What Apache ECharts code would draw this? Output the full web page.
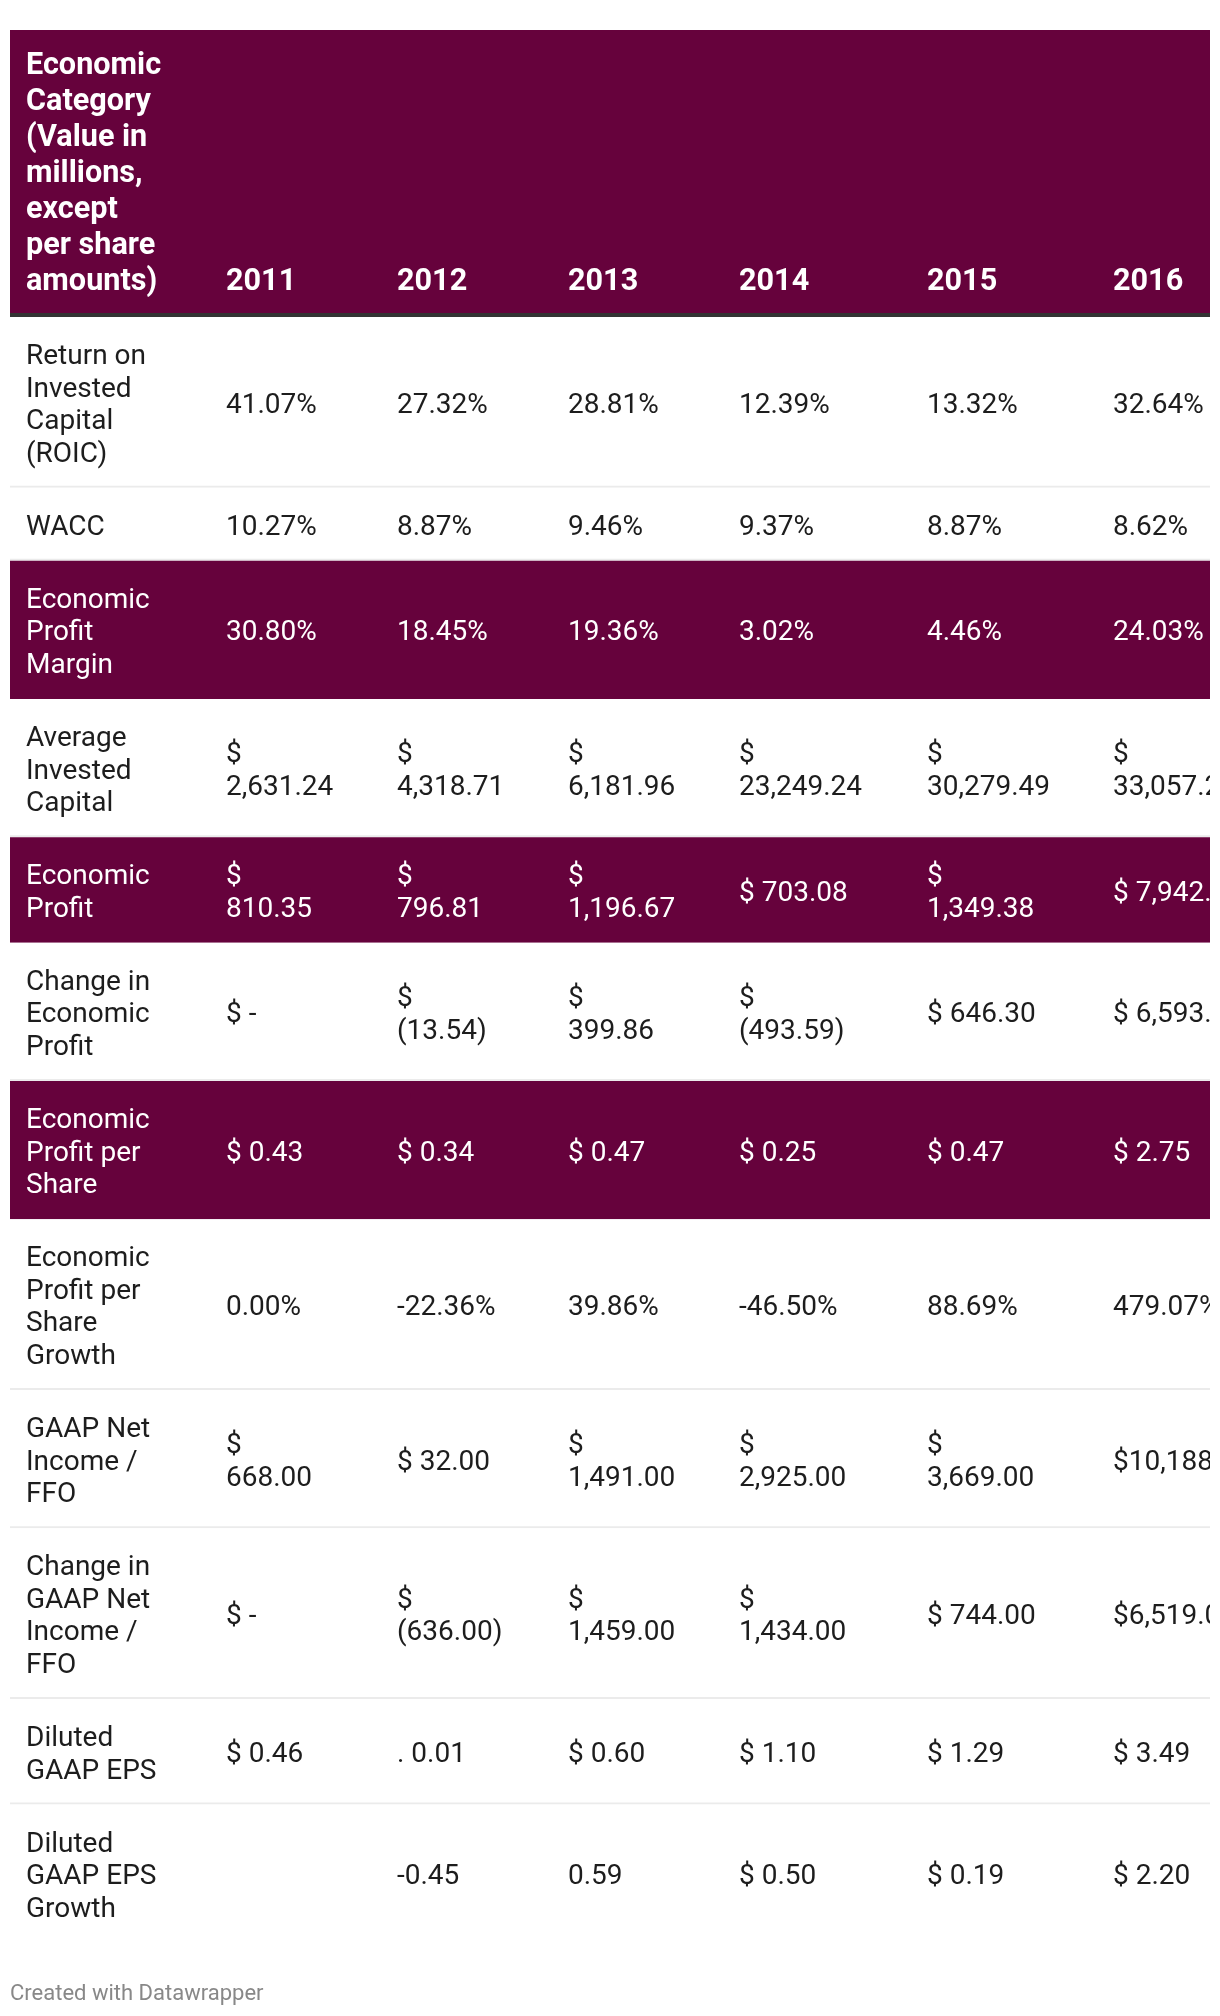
<!DOCTYPE html>
<html>
<head>
<meta charset="utf-8">
<script src="https://cdn.jsdelivr.net/npm/echarts@6/dist/echarts.min.js"></script>
<style>
html,body{margin:0;padding:0;background:#fff;}
#chart{width:1220px;height:2016px;}
</style>
</head>
<body>
<div id="chart"></div>
<script>
// ---------------- DATA ----------------
const headerLabel = 'Economic\nCategory\n(Value in\nmillions,\nexcept\nper share\namounts)';
const years = ['2011', '2012', '2013', '2014', '2015', '2016'];
const categories = [
  'Return on\nInvested\nCapital\n(ROIC)',
  'WACC',
  'Economic\nProfit\nMargin',
  'Average\nInvested\nCapital',
  'Economic\nProfit',
  'Change in\nEconomic\nProfit',
  'Economic\nProfit per\nShare',
  'Economic\nProfit per\nShare\nGrowth',
  'GAAP Net\nIncome /\nFFO',
  'Change in\nGAAP Net\nIncome /\nFFO',
  'Diluted\nGAAP EPS',
  'Diluted\nGAAP EPS\nGrowth'
];
const values2011 = ['41.07%', '10.27%', '30.80%', '$\n2,631.24', '$\n810.35', '$ -', '$ 0.43', '0.00%', '$\n668.00', '$ -', '$ 0.46', ''];
const values2012 = ['27.32%', '8.87%', '18.45%', '$\n4,318.71', '$\n796.81', '$\n(13.54)', '$ 0.34', '-22.36%', '$ 32.00', '$\n(636.00)', '. 0.01', '-0.45'];
const values2013 = ['28.81%', '9.46%', '19.36%', '$\n6,181.96', '$\n1,196.67', '$\n399.86', '$ 0.47', '39.86%', '$\n1,491.00', '$\n1,459.00', '$ 0.60', '0.59'];
const values2014 = ['12.39%', '9.37%', '3.02%', '$\n23,249.24', '$ 703.08', '$\n(493.59)', '$ 0.25', '-46.50%', '$\n2,925.00', '$\n1,434.00', '$ 1.10', '$ 0.50'];
const values2015 = ['13.32%', '8.87%', '4.46%', '$\n30,279.49', '$\n1,349.38', '$ 646.30', '$ 0.47', '88.69%', '$\n3,669.00', '$ 744.00', '$ 1.29', '$ 0.19'];
const values2016 = ['32.64%', '8.62%', '24.03%', '$\n33,057.24', '$ 7,942.40', '$ 6,593.02', '$ 2.75', '479.07%', '$10,188.00', '$6,519.00', '$ 3.49', '$ 2.20'];
const highlightedRows = ['Economic\nProfit\nMargin', 'Economic\nProfit', 'Economic\nProfit per\nShare'];
const footerText = 'Created with Datawrapper';

// ---------------- LAYOUT / STYLE ----------------
const valueColumns = [values2011, values2012, values2013, values2014, values2015, values2016];
const MAROON = '#66023c';
const TABLE_LEFT = 10, TABLE_TOP = 30, TABLE_W = 1200;
const COL_LEFTS = [0, 200, 371, 542, 713, 901, 1087];
const PAD_X = 16;
const BODY_FONT = 28, BODY_LH = 32.6, BODY_PAD = 40.4, BODY_DY = 3.5;
const HEAD_FONT = 30.6, HEAD_LH = 36.0, HEAD_PAD = 15.5, HEAD_DY = 3.2;
const RULE_H = 4;
const FONT = 'Roboto, "Noto Sans", sans-serif';

const nLines = s => s === '' ? 1 : s.split('\n').length;
const headerLines = Math.max(nLines(headerLabel), ...years.map(nLines));
const headerH = headerLines * HEAD_LH + 2 * HEAD_PAD;
const rowTops = [], rowHeights = [];
let yCursor = headerH + RULE_H;
categories.forEach((c, i) => {
  const lines = Math.max(nLines(c), ...valueColumns.map(col => nLines(col[i])));
  const h = lines * BODY_LH + BODY_PAD;
  rowTops.push(yCursor); rowHeights.push(h);
  yCursor += h;
});
const tableH = yCursor;

// series data: row index for backgrounds, [col,row] for cells
const rowData = categories.map((c, i) => [i]);
const cellData = [];
categories.forEach((c, r) => {
  cellData.push([0, r]);
  valueColumns.forEach((col, ci) => cellData.push([ci + 1, r]));
});
const headerData = [[0], ...years.map((y, i) => [i + 1])];

const chart = echarts.init(document.getElementById('chart'), null, { renderer: 'canvas' });

function renderRow(params, api) {
  const r = api.value(0);
  const p0 = api.coord([0, rowTops[r]]);
  const p1 = api.coord([TABLE_W, rowTops[r] + rowHeights[r]]);
  const hl = highlightedRows.indexOf(categories[r]) >= 0;
  const last = r === categories.length - 1;
  const children = [
    { type: 'rect', shape: { x: p0[0], y: p0[1], width: p1[0] - p0[0], height: p1[1] - p0[1] },
      style: { fill: hl ? MAROON : '#ffffff' } }
  ];
  if (!hl && !last) {
    children.push({ type: 'rect', shape: { x: p0[0], y: p1[1] - 2, width: p1[0] - p0[0], height: 2 },
      style: { fill: '#ebebeb' } });
  }
  return { type: 'group', children: children };
}

function renderCell(params, api) {
  const c = api.value(0), r = api.value(1);
  const text = c === 0 ? categories[r] : valueColumns[c - 1][r];
  const hl = highlightedRows.indexOf(categories[r]) >= 0;
  const p = api.coord([COL_LEFTS[c] + PAD_X, rowTops[r] + rowHeights[r] / 2]);
  return {
    type: 'text',
    style: {
      text: text, x: p[0], y: p[1] + BODY_DY,
      fill: hl ? '#ffffff' : '#1d1d1d',
      fontSize: BODY_FONT, fontFamily: FONT, fontWeight: 'normal',
      lineHeight: BODY_LH, align: 'left', verticalAlign: 'middle'
    }
  };
}

function renderHeader(params, api) {
  const c = api.value(0);
  const children = [];
  if (c === 0) {
    const a = api.coord([0, 0]);
    const b = api.coord([TABLE_W, headerH]);
    const d = api.coord([TABLE_W, headerH + RULE_H]);
    children.push({ type: 'rect', shape: { x: a[0], y: a[1], width: b[0] - a[0], height: b[1] - a[1] }, style: { fill: MAROON } });
    children.push({ type: 'rect', shape: { x: a[0], y: b[1], width: b[0] - a[0], height: d[1] - b[1] }, style: { fill: '#333333' } });
  }
  const text = c === 0 ? headerLabel : years[c - 1];
  const p = api.coord([COL_LEFTS[c] + PAD_X, headerH - HEAD_PAD]);
  children.push({
    type: 'text',
    style: {
      text: text, x: p[0], y: p[1] + HEAD_DY, fill: '#ffffff',
      fontSize: HEAD_FONT, fontFamily: FONT, fontWeight: 'bold',
      lineHeight: HEAD_LH, align: 'left', verticalAlign: 'bottom'
    }
  });
  return { type: 'group', children: children };
}

chart.setOption({
  animation: false,
  backgroundColor: '#ffffff',
  title: {
    text: footerText, left: 10, top: 1983, padding: 0,
    textStyle: { color: '#888888', fontSize: 22, fontWeight: 'normal', fontFamily: FONT }
  },
  grid: { left: TABLE_LEFT, top: TABLE_TOP, width: TABLE_W, height: tableH },
  xAxis: { type: 'value', min: 0, max: TABLE_W, show: false },
  yAxis: { type: 'value', min: 0, max: tableH, inverse: true, show: false },
  series: [
    { type: 'custom', clip: true, data: rowData, renderItem: renderRow, silent: true, z: 1 },
    { type: 'custom', clip: true, data: headerData, renderItem: renderHeader, silent: true, z: 2 },
    { type: 'custom', clip: true, data: cellData, renderItem: renderCell, silent: true, z: 3 }
  ]
});
</script>
</body>
</html>
